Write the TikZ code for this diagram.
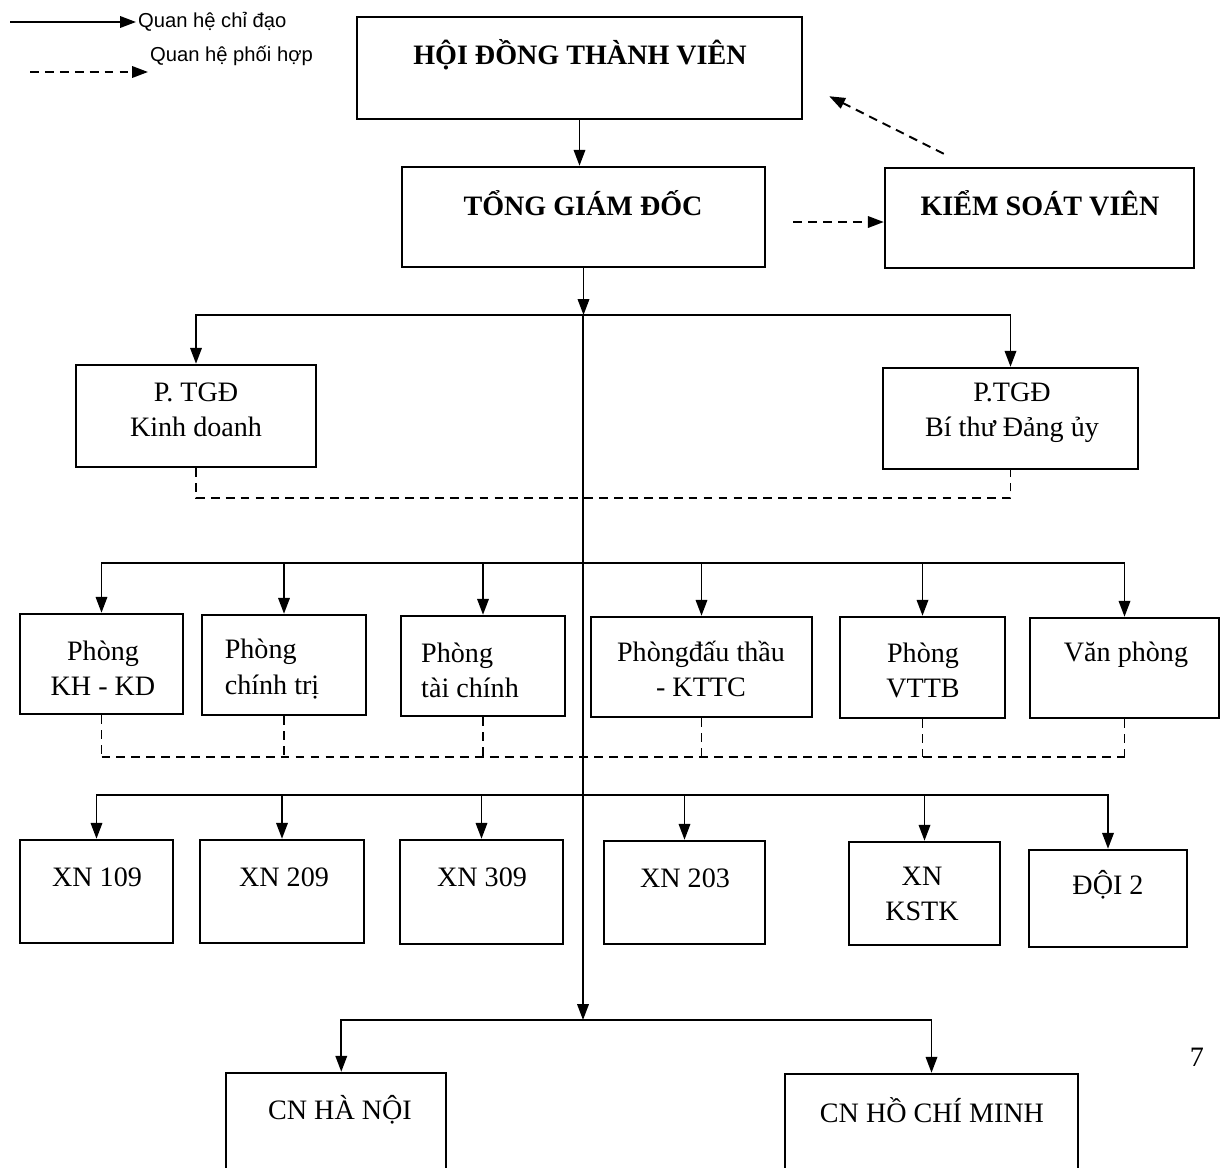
\documentclass[tikz,border=0pt]{standalone}
\usepackage{fontspec}
\setmainfont{Liberation Serif}
\newfontfamily\chuthich{Liberation Sans}
\usetikzlibrary{arrows.meta,fit}
\begin{document}
\begin{tikzpicture}[x=0.02cm,y=-0.02cm,font=\fontsize{16}{20}\selectfont,
	arrow/.style={>={Triangle[length=9pt,width=6.5pt]},->,line width=1.1pt},
	phoi/.style={dash pattern=on 5pt off 3.5pt,line width=1.1pt},
	hop/.style={draw,line width=1.4pt,inner sep=0pt},
	nhan/.style={inner sep=1pt,align=center}]
	\useasboundingbox (0,0) rectangle (1223,1167);
	\clip (0,0) rectangle (1223,1167);
	
	% legend
	\coordinate (lg1) at (10,22);
	\coordinate (lg2) at (30,72);
	\node[anchor=west,inner sep=1pt,font=\chuthich\fontsize{11.5}{13}\selectfont] (lgt1) at (136,22) {Quan hệ chỉ đạo};
	\node[anchor=west,inner sep=1pt,font=\chuthich\fontsize{11.5}{13}\selectfont] (lgt2) at (148,56) {Quan hệ phối hợp};
	\draw[arrow] (lg1)--(lgt1.west);
	\draw[arrow,phoi] (lg2)--(lg2-|lgt2.west);
	
	% top boxes
	\node[hop,fit={(357,17)(802,119)}] (hdtv) {};
	\node[hop,fit={(402,167)(765,267)}] (tgd) {};
	\node[hop,fit={(885,168)(1194,268)}] (ksv) {};
	\node[nhan,font=\fontsize{16}{20}\selectfont\bfseries] (hdtv-t) at (580,55) {HỘI ĐỒNG THÀNH VIÊN};
	\node[nhan,font=\fontsize{16}{20}\selectfont\bfseries] (tgd-t) at (583,203) {TỔNG GIÁM ĐỐC};
	\node[nhan,font=\fontsize{16}{20}\selectfont\bfseries] (ksv-t) at (1040,203) {KIỂM SOÁT VIÊN};
	\draw[arrow] (hdtv.south)--(hdtv.south|-tgd.north);
	\draw[arrow,phoi,shorten <=0.54cm] ([shift={(0,5)}]tgd.east)--([shift={(0,4)}]ksv.west);
	\draw[arrow,phoi] ([shift={(60,-13)}]ksv.north west)--([shift={(26,-24)}]hdtv.south east);
	
	% buses
	\coordinate (b1) at (583,315);
	\coordinate (b2) at (583,563);
	\coordinate (b3) at (583,795);
	\coordinate (b4) at (583,1020);
	\draw[arrow] (tgd.south)--(tgd.south|-b1);
	\draw[arrow] (b1)--(b4);
	
	% deputies
	\node[hop,fit={(76,365)(316,467)}] (kd) {};
	\node[hop,fit={(883,368)(1138,469)}] (bt) {};
	\node[nhan] (kd-t) at (196,410) {P. TGĐ\\Kinh doanh};
	\node[nhan] (bt-t) at (1012,413) {P.TGĐ\\Bí thư Đảng ủy};
	\draw[arrow] (b1)-|(kd);
	\draw[arrow] (b1)-|(bt);
	\draw[phoi] (kd.south)--++(0,30)-|(bt.south);
	
	% departments
	\foreach \ten/\xa/\ya/\xb/\yb in {p1/20/614/183/714,p2/202/615/366/715,p3/401/616/565/716,p4/591/617/812/717,p5/840/617/1005/718,p6/1030/618/1219/718}
	{\node[hop,fit={(\xa,\ya)(\xb,\yb)}] (\ten) {};
	\draw[arrow] (b2)-|(\ten);}
	\node[nhan] (p1-t) at (103,668) {Phòng\\KH - KD};
	\node[nhan,align=left] (p2-t) at (272,669) {Phòng\\chính trị};
	\node[nhan,align=left] (p3-t) at (470,670) {Phòng\\tài chính};
	\node[nhan] (p4-t) at (701,669) {Phòngđấu thầu\\- KTTC};
	\node[nhan] (p5-t) at (923,670) {Phòng\\VTTB};
	\node[nhan] (p6-t) at (1126,655) {Văn phòng};
	\coordinate (d2) at (0,757);
	\foreach \i in {1,...,6}
	\draw[phoi] (p\i.south)--(p\i.south|-d2);
	\draw[phoi] (p1.south|-d2)--(p6.south|-d2);
	
	% enterprises
	\foreach \ten/\xa/\ya/\xb/\yb/\nhanx/\nhany/\chu in {x1/20/840/173/943/97/877/XN 109,x2/200/840/364/943/284/877/XN 209,x3/400/840/563/944/482/877/XN 309,x4/604/841/765/944/685/878/XN 203,x5/849/842/1000/945/922/894/XN\\KSTK,x6/1029/850/1187/947/1108/885/ĐỘI 2}
	{\node[hop,fit={(\xa,\ya)(\xb,\yb)}] (\ten) {};
	\node[nhan] (\ten-t) at (\nhanx,\nhany) {\chu};
	\draw[arrow] (b3)-|(\ten);}
	
	% branches
	\node[hop,fit={(226,1073)(446,1220)}] (cn1) {};
	\node[hop,fit={(785,1074)(1078,1220)}] (cn2) {};
	\node[nhan] (cn1-t) at (340,1110) {CN HÀ NỘI};
	\node[nhan] (cn2-t) at (932,1110) {CN HỒ CHÍ MINH};
	\draw[arrow] (b4)-|([xshift=3]cn1.north);
	\draw[arrow] (b4)-|(cn2);
	
	\node[nhan] (trang) at (1197,1057) {7};
\end{tikzpicture}
\end{document}
